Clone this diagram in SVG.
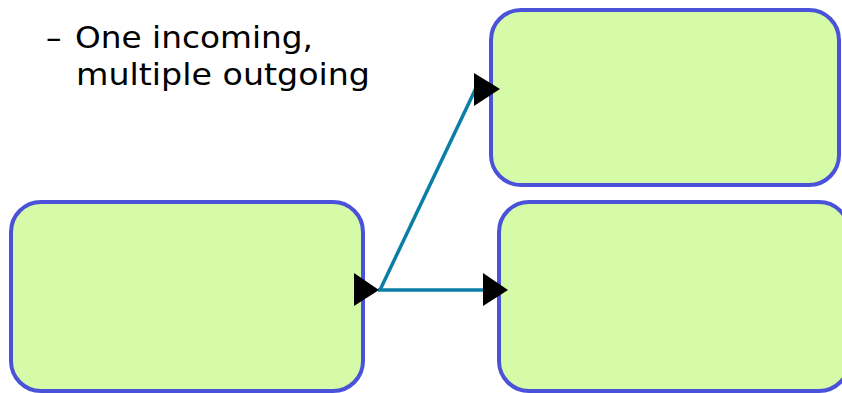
<svg xmlns="http://www.w3.org/2000/svg" width="842" height="393" viewBox="0 0 842 393">
  <style>
    .node { fill: #D6FBA8; stroke: #4A52D9; stroke-width: 4; }
    .edge { fill: none; stroke: #0B7EA6; stroke-width: 3.5; }
    .head { fill: #000000; }
    .label { font-family: "DejaVu Sans", "Noto Sans", sans-serif; font-size: 31px; fill: #000000; }
  </style>
  <rect width="842" height="393" fill="#FFFFFF"/>

  <!-- bullet text -->
  <g id="caption">
    <text class="label" x="46" y="48">–</text>
    <text class="label" x="75" y="48" textLength="238" lengthAdjust="spacingAndGlyphs">One incoming,</text>
    <text class="label" x="76" y="85" textLength="294" lengthAdjust="spacingAndGlyphs">multiple outgoing</text>
  </g>

  <!-- activity nodes -->
  <g id="source">
    <rect class="node" x="11" y="202" width="352" height="189" rx="30" ry="30"/>
  </g>
  <g id="target-top">
    <rect class="node" x="491" y="10" width="348" height="175" rx="30" ry="30"/>
  </g>
  <g id="target-bottom">
    <rect class="node" x="499" y="202" width="350" height="189" rx="30" ry="30"/>
  </g>

  <!-- fork connectors -->
  <g id="connectors">
    <line class="edge" x1="380" y1="290" x2="476" y2="88"/>
    <line class="edge" x1="378" y1="290" x2="486" y2="290"/>
    <polygon class="head" points="354,273 379,290 354,306"/>
    <polygon class="head" points="474,73 500,89 474,106"/>
    <polygon class="head" points="483,273 508,290 483,306"/>
  </g>
</svg>
